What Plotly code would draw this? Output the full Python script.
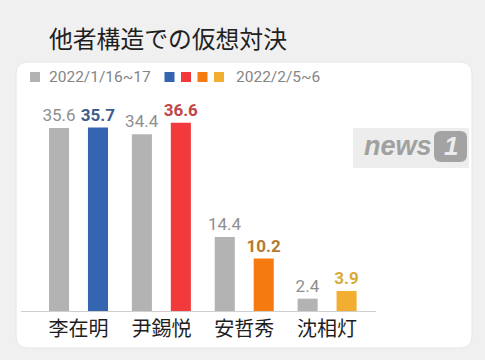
import plotly.graph_objects as go

W, H = 485, 360

categories = ["李在明", "尹錫悦", "安哲秀", "沈相灯"]
jan_values = [35.6, 34.4, 14.4, 2.4]
feb_values = [35.7, 36.6, 10.2, 3.9]
title_text = "他者構造での仮想対決"
legend_jan = "2022/1/16~17"
legend_feb = "2022/2/5~6"

gray = "#b3b3b3"
feb_colors = ["#3565b0", "#f23a3c", "#f57a10", "#f2ae30"]
feb_text_colors = ["#3f5d8c", "#c04646", "#b57a2e", "#d9ab38"]


def px(x):
    return x / W


def py(y):
    return 1 - y / H


def rounded_rect(x0, y0, x1, y1, r):
    return (
        f"M {px(x0 + r)} {py(y0)} L {px(x1 - r)} {py(y0)} "
        f"Q {px(x1)} {py(y0)} {px(x1)} {py(y0 + r)} "
        f"L {px(x1)} {py(y1 - r)} Q {px(x1)} {py(y1)} {px(x1 - r)} {py(y1)} "
        f"L {px(x0 + r)} {py(y1)} Q {px(x0)} {py(y1)} {px(x0)} {py(y1 - r)} "
        f"L {px(x0)} {py(y0 + r)} Q {px(x0)} {py(y0)} {px(x0 + r)} {py(y0)} Z"
    )


fig = go.Figure()
bw = 0.242
fig.add_trace(go.Bar(
    x=list(range(len(categories))), y=jan_values,
    width=bw, offset=-0.235 - bw / 2,
    marker=dict(color=gray, line=dict(width=0)),
    text=[f"{v:.1f}" for v in jan_values], textposition="outside",
    constraintext="none",
    textfont=dict(family="Roboto", size=17, color="#8f8f8f"),
    cliponaxis=False, showlegend=False,
))
fig.add_trace(go.Bar(
    x=list(range(len(categories))), y=feb_values,
    width=bw, offset=0.235 - bw / 2,
    marker=dict(color=feb_colors, line=dict(width=0)),
    text=[f"<b>{v:.1f}</b>" for v in feb_values], textposition="outside",
    constraintext="none",
    textfont=dict(family="Roboto", size=17, color=feb_text_colors),
    cliponaxis=False, showlegend=False,
))

shapes = [
    dict(type="path", xref="paper", yref="paper", path=rounded_rect(16, 62, 472, 348, 12),
         fillcolor="white", line=dict(color="#e6e6e6", width=1), layer="below"),
    dict(type="rect", xref="paper", yref="paper", x0=px(353), x1=px(469), y0=py(168), y1=py(128),
         fillcolor="#ededed", line=dict(width=0), layer="below"),
    dict(type="path", xref="paper", yref="paper",
         path=rounded_rect(434, 131, 467, 162, 7), fillcolor="#a3a3a3", line=dict(width=0)),
    dict(type="rect", xref="paper", yref="paper", x0=px(30), x1=px(40), y0=py(82), y1=py(72),
         fillcolor=gray, line=dict(width=0)),
]
for i, c in enumerate(feb_colors):
    x0 = 164.5 + i * 16.5
    shapes.append(dict(type="rect", xref="paper", yref="paper", x0=px(x0), x1=px(x0 + 10),
                       y0=py(82), y1=py(72), fillcolor=c, line=dict(width=0)))

annotations = [
    dict(text=title_text, x=px(47), y=py(38), xref="paper", yref="paper", xanchor="left",
         yanchor="middle", showarrow=False,
         font=dict(family="Noto Sans CJK JP", size=23.8, color="#1f1f1f")),
    dict(text=legend_jan, x=px(47), y=py(77), xref="paper", yref="paper", xanchor="left",
         yanchor="middle", showarrow=False, font=dict(family="Roboto", size=15.5, color="#858585")),
    dict(text=legend_feb, x=px(234), y=py(77), xref="paper", yref="paper", xanchor="left",
         yanchor="middle", showarrow=False, font=dict(family="Roboto", size=15.5, color="#858585")),
    dict(text="<b><i>news</i></b>", x=px(362), y=py(146), xref="paper", yref="paper",
         xanchor="left", yanchor="middle", showarrow=False,
         font=dict(family="Liberation Sans", size=27, color="#a0a0a0")),
    dict(text="<b><i>1</i></b>", x=px(451), y=py(146), xref="paper", yref="paper",
         xanchor="center", yanchor="middle", showarrow=False,
         font=dict(family="Liberation Sans", size=26, color="#ececec")),
]

fig.update_layout(
    width=W, height=H,
    margin=dict(l=0, r=0, t=0, b=0),
    paper_bgcolor="#f0f0f0", plot_bgcolor="rgba(0,0,0,0)",
    barmode="overlay",
    shapes=shapes, annotations=annotations,
    xaxis=dict(domain=[px(21), px(376)], range=[-0.694, 3.59],
               tickvals=list(range(len(categories))), ticktext=categories,
               showline=True, linecolor="#cfcfcf", linewidth=1, ticks="",
               showgrid=False, zeroline=False, fixedrange=True,
               tickfont=dict(family="Noto Sans CJK JP", size=20, color="#1e1e1e")),
    yaxis=dict(domain=[py(311), py(100)], range=[0, 41.05], visible=False,
               showgrid=False, zeroline=False, fixedrange=True),
    font=dict(family="Roboto"),
)

fig.write_html(
    "out.html",
    config={"displayModeBar": False},
    post_script="document.body.style.margin='0';document.body.style.background='#f0f0f0';",
)
